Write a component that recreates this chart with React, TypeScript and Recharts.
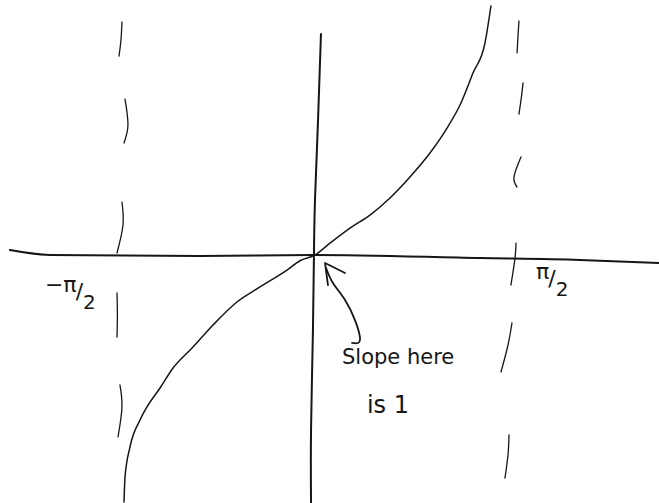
import React from 'react';
import { ComposedChart, Line, XAxis, YAxis, ReferenceDot } from 'recharts';

// Sketch of y = tan(x) with its asymptotes at ±π/2.
type Pt = [number, number];

const X_DOMAIN: [number, number] = [-2.474, 2.702];
const Y_DOMAIN: [number, number] = [-1.948, 2.003];

// the hand-drawn tangent branch through the origin
const tanCurve: Pt[] = [
  [-1.5, -1.94], [-1.492, -1.744], [-1.453, -1.508], [-1.374, -1.296], [-1.32, -1.194],
  [-1.217, -1.045], [-1.115, -0.888], [-0.958, -0.723], [-0.801, -0.55], [-0.613, -0.369],
  [-0.432, -0.251], [-0.22, -0.118], [-0.118, -0.045], [0, 0], [0.118, 0.094],
  [0.275, 0.212], [0.432, 0.314], [0.589, 0.448], [0.746, 0.613], [0.903, 0.801],
  [1.037, 0.997], [1.139, 1.178], [1.241, 1.429], [1.335, 1.665], [1.382, 1.956],
];

// freehand axes
const xAxisLine: Pt[] = [
  [-2.396, 0.039], [-2.081, 0], [-0.903, -0.008], [-0.016, 0], [1.296, -0.024], [2.081, -0.039], [2.702, -0.063],
];
const yAxisLine: Pt[] = [
  [0.047, 1.736], [0.024, 1.061], [0, 0.432], [-0.008, 0], [-0.016, -0.589], [-0.031, -1.375], [-0.031, -1.948],
];

// dashed asymptote at x = -π/2, one stroke per dash
const leftAsymptote: Pt[][] = [
  [[-1.516, 1.83], [-1.524, 1.689], [-1.539, 1.563]],
  [[-1.492, 1.225], [-1.469, 1.021], [-1.5, 0.88]],
  [[-1.516, 0.416], [-1.508, 0.236], [-1.555, 0.016]],
  [[-1.555, -0.298], [-1.552, -0.471], [-1.555, -0.644]],
  [[-1.532, -1.021], [-1.516, -1.194], [-1.547, -1.429]],
];

// dashed asymptote at x = π/2
const rightAsymptote: Pt[][] = [
  [[1.602, 1.838], [1.594, 1.71], [1.587, 1.587]],
  [[1.634, 1.351], [1.62, 1.23], [1.602, 1.107]],
  [[1.618, 0.77], [1.563, 0.613], [1.587, 0.534]],
  [[1.579, 0.094], [1.571, -0.024], [1.539, -0.236]],
  [[1.547, -0.534], [1.516, -0.707], [1.461, -0.919]],
  [[1.524, -1.414], [1.516, -1.571], [1.492, -1.752]],
];

// arrow pointing at the origin
const arrowShaft: Pt[] = [
  [0.087, -0.102], [0.141, -0.22], [0.236, -0.353], [0.314, -0.511], [0.353, -0.644], [0.338, -0.691], [0.291, -0.691],
];
const arrowHead: Pt[] = [[0.236, -0.141], [0.079, -0.063], [0.102, -0.236]];

// axis labels at the asymptotes and the note about the slope
const labelLeft = { x: -2.121, y: -0.29, main: '−π', tail: ['/', '2'] };
const labelRight = { x: 1.736, y: -0.19, main: 'π', tail: ['/', '2'] };
const noteLines = ['Slope here', 'is 1'];
const notePos: Pt[] = [[0.212, -0.86], [0.408, -1.24]];
const noteSizes = [21, 24];

const toRows = (pts: Pt[]) => pts.map(([x, y]) => ({ x, y }));

const INK = '#161616';
const HAND_FONT = '"DejaVu Sans", "Noto Sans", sans-serif';

const FracLabel = (props: any) => {
  const { cx, cy, main, tail } = props;
  return (
    <text x={cx} y={cy} fill={INK} fontFamily={HAND_FONT} fontSize={22}>
      {main}
      <tspan dx={-1} dy={7}>{tail[0]}</tspan>
      <tspan dx={0} dy={10} fontSize={20}>{tail[1]}</tspan>
    </text>
  );
};

const NoteLabel = (props: any) => {
  const { cx, cy, text, size } = props;
  return (
    <text x={cx} y={cy} fill={INK} fontFamily={HAND_FONT} fontSize={size}>
      {text}
    </text>
  );
};

const stroke = (
  key: string,
  pts: Pt[],
  width: number,
  type: 'linear' | 'natural' | 'monotone' = 'natural',
) => (
  <Line
    key={key}
    data={toRows(pts)}
    dataKey="y"
    type={type}
    stroke={INK}
    strokeWidth={width}
    strokeLinecap="round"
    strokeLinejoin="round"
    dot={false}
    activeDot={false}
    isAnimationActive={false}
  />
);

export default function App() {
  return (
    <div style={{ position: 'absolute', left: 0, top: 0, background: '#fff' }}>
      <ComposedChart width={659} height={503} margin={{ top: 0, right: 0, bottom: 0, left: 0 }}>
        <XAxis type="number" dataKey="x" domain={X_DOMAIN} allowDataOverflow hide />
        <YAxis type="number" dataKey="y" domain={Y_DOMAIN} allowDataOverflow hide />
        {stroke('xaxis', xAxisLine, 2, 'monotone')}
        {stroke('yaxis', yAxisLine, 2)}
        {stroke('tan', tanCurve, 1.5, 'monotone')}
        {leftAsymptote.map((seg, i) => stroke(`la${i}`, seg, 1.3))}
        {rightAsymptote.map((seg, i) => stroke(`ra${i}`, seg, 1.3))}
        {stroke('shaft', arrowShaft, 1.8)}
        {stroke('head', arrowHead, 1.8, 'linear')}
        <ReferenceDot
          x={labelLeft.x}
          y={labelLeft.y}
          r={0}
          shape={(p: any) => <FracLabel {...p} main={labelLeft.main} tail={labelLeft.tail} />}
        />
        <ReferenceDot
          x={labelRight.x}
          y={labelRight.y}
          r={0}
          shape={(p: any) => <FracLabel {...p} main={labelRight.main} tail={labelRight.tail} />}
        />
        {noteLines.map((t, i) => (
          <ReferenceDot
            key={t}
            x={notePos[i][0]}
            y={notePos[i][1]}
            r={0}
            shape={(p: any) => <NoteLabel {...p} text={t} size={noteSizes[i]} />}
          />
        ))}
      </ComposedChart>
    </div>
  );
}
